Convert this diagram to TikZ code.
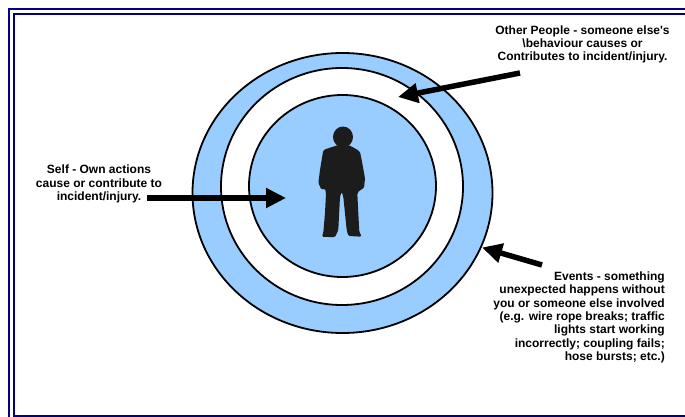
\documentclass[tikz,border=0pt]{standalone}
\usepackage{fontspec}
\setmainfont{Liberation Sans}[Ligatures=ResetAll]
\usetikzlibrary{arrows.meta}
\definecolor{framenavy}{RGB}{0,0,128}
\definecolor{ringblue}{RGB}{153,204,255}
\definecolor{manblack}{RGB}{28,28,28}
\tikzset{
  ringline/.style={draw=black, line width=1.8pt},
  bigarrow/.style={line width=5.5pt, -{Triangle[length=20pt,width=19pt]}},
  caption/.style={inner sep=0pt, font=\fontsize{12}{13.4}\selectfont\bfseries},
  frameline/.style={draw=framenavy, line width=2.4pt}
}
\begin{document}
\begin{tikzpicture}[x=1pt,y=-1pt]
\useasboundingbox (0,0) rectangle (685,417);
\clip (0,0) rectangle (685,417);
\fill[white] (0,0) rectangle (685,417);
% frame
\draw[frameline] (9,9) rectangle (720,440);
\draw[frameline] (14,14) rectangle (700,416.5);
% rings
\path[ringline, fill=ringblue] (342.5,193) ellipse [x radius=150pt, y radius=140pt];
\path[ringline, fill=white] (342,186.5) ellipse [x radius=121pt, y radius=118.5pt];
\path[ringline, fill=ringblue] (342.5,186) ellipse [x radius=93.5pt, y radius=91pt];
% silhouette
\fill[manblack] (343,137) ellipse [x radius=10pt, y radius=10.5pt];
\fill[manblack, rounded corners=1.5pt]
  (338.3,145) -- (328.3,148.3) -- (323.3,150) -- (320,170) -- (318.3,183)
  -- (321.7,190) -- (325,188.3) -- (326,193) -- (325,213) -- (323.3,233)
  -- (321.7,236.7) -- (335,237.3) -- (338.3,230) -- (340,196.7)
  -- (341.7,191.7) -- (343.3,196.7) -- (346.7,230) -- (348.3,236)
  -- (361.7,236.7) -- (359.3,231.7) -- (358.3,213) -- (357.3,193)
  -- (360,190) -- (364,188.3) -- (365,178.3) -- (361.7,160) -- (360,151.7)
  -- (355,148.3) -- (348.3,145) -- cycle;
% captions
\node[caption, align=center, anchor=north] (other) at (582.5,25.2)
  {Other People - someone else\textquotesingle s\\\textbackslash behaviour causes or\\Contributes to incident/injury.};
\node[caption, align=center, anchor=north] (self) at (99,165)
  {Self - Own actions\\cause or contribute to\\incident/injury.};
\node[caption, align=right, anchor=north east] (events) at (665,271.5)
  {Events - something\\unexpected happens without\\you or someone else involved\\(e.g. wire rope breaks; traffic\\lights start working\\incorrectly; coupling fails;\\hose bursts; etc.)};
% arrow ends
\coordinate (selftail) at (147,198);
\coordinate (selftip) at (286,198);
\coordinate (othertail) at (520,73);
\coordinate (othertip) at (398,97);
\coordinate (eventstail) at (542,265);
\coordinate (eventstip) at (482,247.5);
\draw[bigarrow] (selftail) -- (selftip);
\draw[bigarrow] (othertail) -- (othertip);
\draw[bigarrow] (eventstail) -- (eventstip);
\end{tikzpicture}
\end{document}
